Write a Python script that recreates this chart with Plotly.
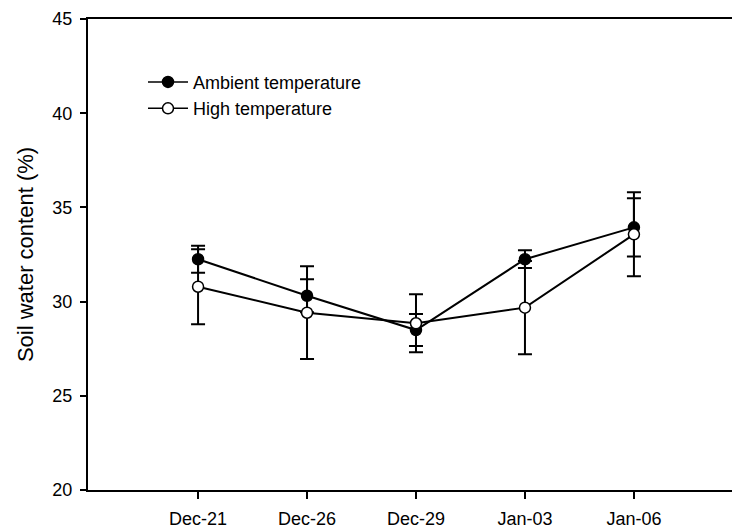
import plotly.graph_objects as go

dates = ["Dec-21", "Dec-26", "Dec-29", "Jan-03", "Jan-06"]
ambient = [32.25, 30.31, 28.49, 32.25, 33.94]
ambient_err = [0.72, 0.87, 0.85, 0.47, 1.54]
high = [30.79, 29.41, 28.85, 29.68, 33.57]
high_err = [1.99, 2.46, 1.54, 2.48, 2.23]
y_ticks = [20, 25, 30, 35, 40, 45]
series_names = ["Ambient temperature", "High temperature"]

font = "Liberation Sans, Arial, sans-serif"

fig = go.Figure()
fig.add_trace(go.Scatter(
    x=dates, y=ambient, name=series_names[0], mode="lines+markers", showlegend=False,
    line=dict(color="black", width=2),
    marker=dict(symbol="circle", size=11, color="black", line=dict(color="black", width=1.5)),
    error_y=dict(type="data", array=ambient_err, visible=True, color="black", thickness=2, width=7),
))
fig.add_trace(go.Scatter(
    x=dates, y=high, name=series_names[1], mode="lines+markers", showlegend=False,
    line=dict(color="black", width=2),
    marker=dict(symbol="circle", size=11, color="white", line=dict(color="black", width=1.5)),
    error_y=dict(type="data", array=high_err, visible=True, color="black", thickness=2, width=7),
))
# legend entries
for nm, fill in zip(series_names, ["black", "white"]):
    fig.add_trace(go.Scatter(
        x=[None], y=[None], name=nm, mode="lines+markers", showlegend=True,
        line=dict(color="black", width=1.5),
        marker=dict(symbol="circle", size=11, color=fill, line=dict(color="black", width=1.5)),
    ))

fig.update_layout(
    width=732, height=529,
    margin=dict(l=88, r=0, t=19, b=39),
    paper_bgcolor="white", plot_bgcolor="white",
    font=dict(family=font, color="black", size=18),
    showlegend=True,
    legend=dict(x=0.0854, y=0.905, xanchor="left", yanchor="top",
                bgcolor="rgba(0,0,0,0)", font=dict(size=18, family=font),
                tracegroupgap=0, itemwidth=40),
    xaxis=dict(
        type="category", range=[-1.01, 4.9],
        showline=True, linecolor="black", linewidth=2, mirror=True,
        ticks="outside", ticklen=7, tickwidth=2, tickcolor="black",
        showgrid=False, zeroline=False,
        tickfont=dict(size=18, family=font), ticklabelstandoff=4,
    ),
    yaxis=dict(
        range=[20, 45], tickvals=y_ticks,
        showline=True, linecolor="black", linewidth=2, mirror=False,
        ticks="outside", ticklen=6, tickwidth=2, tickcolor="black",
        showgrid=False, zeroline=False,
        tickfont=dict(size=18, family=font), ticklabelstandoff=4,
        title=dict(text="Soil water content (%)", font=dict(size=22, family=font), standoff=13),
    ),
)

fig.write_html("out.html")
